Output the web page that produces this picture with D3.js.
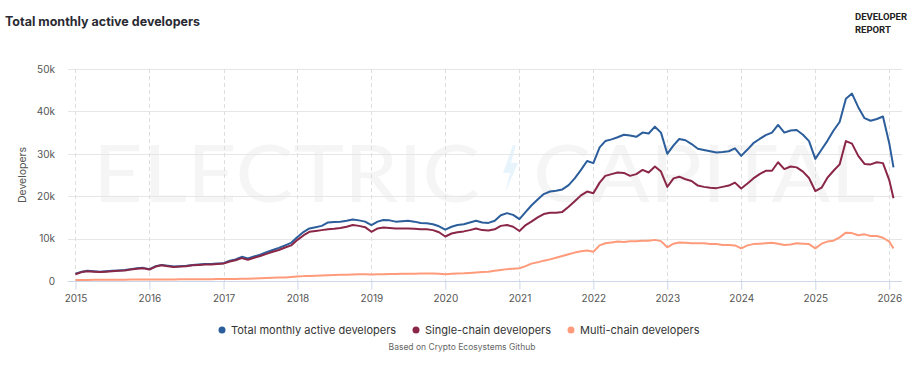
<!DOCTYPE html>
<html>
<head>
<meta charset="utf-8">
<script src="https://cdn.jsdelivr.net/npm/d3@7"></script>
<style>
  body { margin: 0; background: #fff; }
  svg { display: block; font-family: Inter, "Noto Sans", sans-serif; }
</style>
</head>
<body>
<svg class="chart"></svg>
<script>
//======
// Data
//======

// monthly values in thousands, Jan 2015 .. Jan 2026, plus last partial reading
var total = [
  1.7, 2.2, 2.4, 2.3, 2.2, 2.3, 2.4, 2.5, 2.6, 2.8, 3.0, 3.1,
  2.8, 3.5, 3.8, 3.6, 3.4, 3.5, 3.6, 3.8, 3.9, 4.0, 4.0, 4.1,
  4.2, 4.8, 5.1, 5.7, 5.3, 5.8, 6.2, 6.8, 7.3, 7.8, 8.4, 9.0,
  10.4, 11.6, 12.4, 12.7, 13.0, 13.8, 13.9, 14.0, 14.2, 14.5, 14.3, 14.0,
  13.2, 14.0, 14.4, 14.3, 14.0, 14.1, 14.2, 14.0, 13.7, 13.6, 13.4, 12.9,
  12.1, 12.8, 13.2, 13.4, 13.8, 14.2, 13.8, 13.7, 14.2, 15.5, 16.0, 15.6,
  14.6, 16.3, 17.8, 19.2, 20.5, 21.1, 21.3, 21.6, 22.6, 24.2, 26.2, 28.3,
  27.8, 31.5, 33.0, 33.4, 33.9, 34.5, 34.3, 34.0, 35.0, 34.8, 36.4, 35.0,
  30.0, 32.0, 33.5, 33.2, 32.3, 31.2, 30.9, 30.6, 30.3, 30.4, 30.6, 31.3,
  29.5, 31.0, 32.5, 33.5, 34.4, 35.0, 36.8, 35.0, 35.5, 35.6, 34.5, 33.0,
  28.8, 31.0, 33.0, 35.5, 37.5, 43.0, 44.2, 41.0, 38.4, 37.8, 38.2, 38.8,
  32.5, 26.8
];

var singleChain = [
  1.6, 2.1, 2.3, 2.2, 2.1, 2.2, 2.3, 2.4, 2.5, 2.7, 2.9, 3.0,
  2.7, 3.4, 3.7, 3.5, 3.3, 3.4, 3.5, 3.7, 3.8, 3.9, 3.9, 4.0,
  4.1, 4.6, 4.9, 5.4, 5.0, 5.5, 5.9, 6.4, 6.9, 7.3, 7.9, 8.4,
  9.7, 10.8, 11.6, 11.8, 12.0, 12.2, 12.3, 12.5, 12.8, 13.2, 13.0, 12.7,
  11.6, 12.4, 12.6, 12.5, 12.4, 12.4, 12.4, 12.3, 12.2, 12.2, 12.0, 11.5,
  10.5, 11.2, 11.5, 11.7, 12.0, 12.4, 12.0, 11.9, 12.2, 13.0, 13.2, 12.8,
  11.8, 13.2, 14.0, 15.0, 15.8, 16.1, 16.1, 16.3, 17.5, 18.8, 20.2, 21.1,
  20.7, 23.2, 24.8, 25.2, 25.6, 25.5, 24.8, 25.2, 26.2, 25.6, 27.0, 25.8,
  22.2, 24.2, 24.6, 24.0, 23.6, 22.5, 22.2, 22.0, 21.9, 22.2, 22.5, 23.2,
  21.8, 23.0, 24.2, 25.2, 26.0, 26.0, 28.0, 26.4, 27.0, 26.8, 25.8, 24.3,
  21.2, 22.0, 24.3, 26.0, 27.5, 33.0, 32.4, 29.5, 27.6, 27.5, 28.0, 27.8,
  23.8, 19.5
];

var multiChain = [
  0.25, 0.25, 0.25, 0.27, 0.28, 0.3, 0.3, 0.3, 0.32, 0.33, 0.35, 0.35,
  0.35, 0.36, 0.37, 0.38, 0.38, 0.4, 0.4, 0.4, 0.42, 0.42, 0.43, 0.45,
  0.45, 0.48, 0.5, 0.52, 0.55, 0.6, 0.65, 0.7, 0.75, 0.8, 0.85, 0.95,
  1.05, 1.15, 1.2, 1.25, 1.3, 1.35, 1.4, 1.45, 1.5, 1.55, 1.6, 1.6,
  1.55, 1.6, 1.6, 1.65, 1.65, 1.7, 1.7, 1.7, 1.75, 1.75, 1.75, 1.7,
  1.6, 1.7, 1.75, 1.8, 1.9, 2.0, 2.1, 2.2, 2.4, 2.6, 2.8, 2.9,
  3.0, 3.5, 4.1, 4.4, 4.8, 5.1, 5.5, 5.9, 6.3, 6.7, 7.0, 7.2,
  6.9, 8.4, 8.9, 9.1, 9.3, 9.2, 9.4, 9.4, 9.5, 9.5, 9.7, 9.4,
  7.95, 8.8, 9.1, 9.0, 8.9, 8.9, 8.9, 8.7, 8.7, 8.5, 8.5, 8.4,
  7.7, 8.4, 8.7, 8.8, 8.9, 9.0, 8.8, 8.5, 8.6, 8.9, 8.8, 8.7,
  7.7, 8.8, 9.3, 9.5, 10.3, 11.4, 11.3, 10.8, 11.0, 10.6, 10.6, 10.2,
  9.3, 7.7
];

var yearTicks = [2015, 2016, 2017, 2018, 2019, 2020, 2021, 2022, 2023, 2024, 2025, 2026];
var valueTicks = [0, 10, 20, 30, 40, 50];

var seriesNames = ["Total monthly active developers", "Single-chain developers", "Multi-chain developers"];
var seriesColors = ["#2b5e9b", "#8a2646", "#ff9b7b"];

// month dates for the values above
var dates = d3.timeMonth.range(new Date(2015, 0, 1), new Date(2026, 1, 1));
dates.push(new Date(2026, 0, 22));

//=======
// Chart
//=======

var width = 920,
  height = 365,
  plotLeft = 68,
  plotRight = 902,
  plotTop = 69,
  plotBottom = 281;

var svg = d3.select(".chart")
  .attr("width", width)
  .attr("height", height);

var xScale = d3.scaleTime()
  .domain([new Date(2014, 10, 25), new Date(2026, 2, 5)])
  .range([plotLeft, plotRight]);

var yScale = d3.scaleLinear()
  .domain([0, 50])
  .range([plotBottom, plotTop]);

// watermark
var mark = svg.append("g").attr("class", "watermark");
mark.append("text")
  .attr("x", 93).attr("y", 202)
  .attr("textLength", 387).attr("lengthAdjust", "spacingAndGlyphs")
  .style("font-family", "Lato, 'Open Sans', sans-serif")
  .style("font-weight", 400)
  .style("font-size", "80px")
  .style("fill", "#f5f5f5")
  .text("ELECTRIC");
mark.append("path")
  .attr("d", "M513,145 L503,173 L510,173 L505,193 L518,163 L511,163 L516,145 Z")
  .style("fill", "#e8f4fb");
mark.append("text")
  .attr("x", 533).attr("y", 202)
  .attr("textLength", 342).attr("lengthAdjust", "spacingAndGlyphs")
  .style("font-family", "Lato, 'Open Sans', sans-serif")
  .style("font-weight", 400)
  .style("font-size", "80px")
  .style("fill", "#f5f5f5")
  .text("CAPITAL");

// grid
svg.append("g")
  .selectAll("line")
  .data(valueTicks.slice(1))
  .enter()
  .append("line")
  .attr("x1", plotLeft).attr("x2", plotRight)
  .attr("y1", function(d) { return Math.round(yScale(d)) + 0.5; })
  .attr("y2", function(d) { return Math.round(yScale(d)) + 0.5; })
  .style("stroke", "#e6e6e6");

svg.append("g")
  .selectAll("line")
  .data(yearTicks)
  .enter()
  .append("line")
  .attr("x1", function(d) { return Math.round(xScale(new Date(d, 0, 1))) + 0.5; })
  .attr("x2", function(d) { return Math.round(xScale(new Date(d, 0, 1))) + 0.5; })
  .attr("y1", plotTop).attr("y2", plotBottom)
  .style("stroke", "#dedede")
  .style("stroke-dasharray", "4,3");

// axes
var xAxis = svg.append("g")
  .attr("transform", "translate(0," + (plotBottom + 0.5) + ")")
  .call(d3.axisBottom(xScale)
    .tickValues(yearTicks.map(function(d) { return new Date(d, 0, 1); }))
    .tickFormat(d3.timeFormat("%Y"))
    .tickSize(8)
    .tickPadding(5));
xAxis.select(".domain").attr("d", "M" + plotLeft + ",0H" + plotRight).style("stroke", "#ccd6eb");
xAxis.selectAll(".tick line").style("stroke", "#ccd6eb");
xAxis.selectAll(".tick text")
  .style("font-family", "Inter, sans-serif")
  .style("font-size", "10px")
  .style("fill", "#555");

var yAxis = svg.append("g")
  .attr("transform", "translate(" + (plotLeft - 13) + ",0)")
  .call(d3.axisLeft(yScale)
    .tickValues(valueTicks)
    .tickFormat(function(d) { return d === 0 ? "0" : d + "k"; })
    .tickSize(0)
    .tickPadding(0));
yAxis.select(".domain").remove();
yAxis.selectAll(".tick text")
  .style("font-family", "Inter, sans-serif")
  .style("font-size", "10px")
  .style("fill", "#555");

svg.append("text")
  .attr("transform", "translate(26,175) rotate(-90)")
  .attr("text-anchor", "middle")
  .style("font-size", "10.5px")
  .style("fill", "#555")
  .text("Developers");

// lines
var line = d3.line()
  .x(function(d, i) { return xScale(dates[i]); })
  .y(function(d) { return yScale(d); });

[total, singleChain, multiChain].forEach(function(values, i) {
  svg.append("path")
    .datum(values)
    .attr("d", line)
    .style("fill", "none")
    .style("stroke", seriesColors[i])
    .style("stroke-width", 2)
    .style("stroke-linejoin", "round");
});

// title and logo
svg.append("text")
  .attr("x", 5).attr("y", 26)
  .style("font-size", "12.5px")
  .style("font-weight", 700)
  .style("fill", "#2a2a33")
  .text("Total monthly active developers");

svg.append("text")
  .attr("x", 855).attr("y", 20)
  .style("font-family", "Roboto, sans-serif")
  .style("font-size", "9.5px")
  .style("font-weight", 700)
  .style("fill", "#222")
  .text("DEVELOPER");
svg.append("text")
  .attr("x", 855).attr("y", 33)
  .style("font-family", "Roboto, sans-serif")
  .style("font-size", "9.5px")
  .style("font-weight", 700)
  .style("fill", "#222")
  .text("REPORT");

// legend
var legendX = [222, 416, 571];
var legend = svg.append("g")
  .selectAll("g")
  .data(seriesNames)
  .enter()
  .append("g")
  .attr("transform", function(d, i) { return "translate(" + legendX[i] + ",330)"; });
legend.append("circle")
  .attr("r", 3.5)
  .style("fill", function(d, i) { return seriesColors[i]; });
legend.append("text")
  .attr("x", 9).attr("y", 4)
  .style("font-size", "11px")
  .style("fill", "#333")
  .text(function(d) { return d; });

svg.append("text")
  .attr("x", 462).attr("y", 350)
  .attr("text-anchor", "middle")
  .style("font-size", "8.5px")
  .style("fill", "#666")
  .text("Based on Crypto Ecosystems Github");
</script>
</body>
</html>
